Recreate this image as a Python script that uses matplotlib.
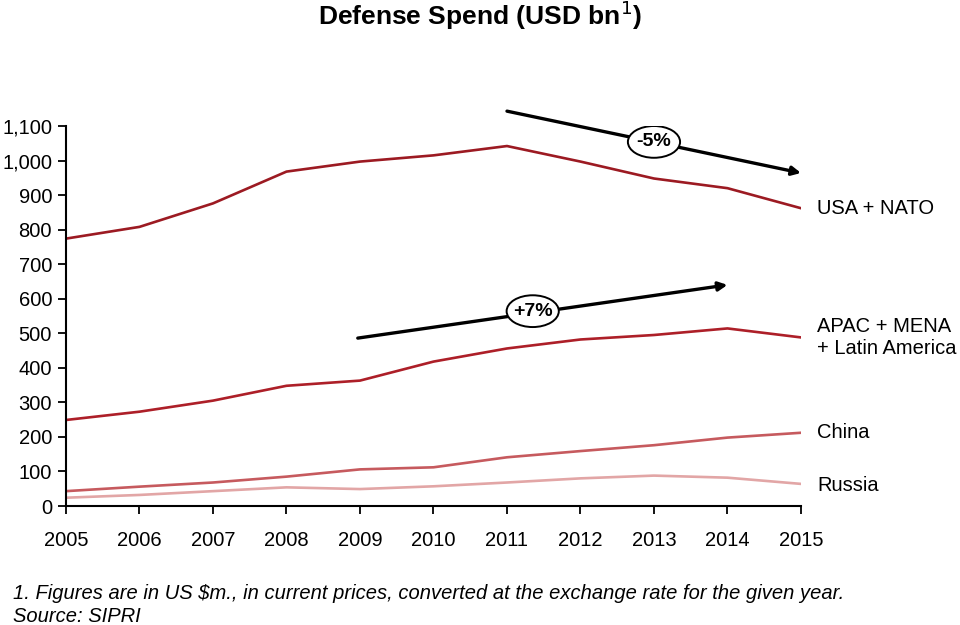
import matplotlib.pyplot as plt
from matplotlib.patches import Ellipse

plt.rcParams['font.family'] = ['Liberation Sans', 'DejaVu Sans']

years = list(range(2005, 2016))
usa_nato = [774, 808, 876, 968, 997, 1015, 1042, 997, 948, 920, 862]
apac_mena_latam = [249, 273, 305, 348, 363, 418, 456, 482, 495, 514, 488]
china = [43, 56, 68, 85, 106, 112, 141, 159, 176, 198, 212]
russia = [24, 32, 43, 54, 49, 57, 68, 80, 88, 82, 64]

series_names = ['USA + NATO', 'APAC + MENA\n+ Latin America', 'China', 'Russia']
series_values = [usa_nato, apac_mena_latam, china, russia]
series_colors = ['#9c1a22', '#ad1f28', '#c65a5e', '#e2a6a6']
label_y = [862, 488, 212, 60]

fig = plt.figure(figsize=(9.6, 6.25), dpi=100)
ax = fig.add_axes([0.06875, 0.1904, 0.7656, 0.608])

for vals, col in zip(series_values, series_colors):
    ax.plot(years, vals, color=col, lw=1.9, solid_joinstyle='round')

for name, y, col in zip(series_names, label_y, series_colors):
    ax.text(2015.22, y, name, fontsize=14.5, va='center', ha='left',
            linespacing=1.15, clip_on=False)

# trend arrows with growth labels
ax.annotate('', xy=(2015.0, 964), xytext=(2011.0, 1143),
            arrowprops=dict(arrowstyle='-|>', color='black', lw=2.4,
                            mutation_scale=13, shrinkA=0, shrinkB=0))
ax.annotate('', xy=(2014.0, 640), xytext=(2008.97, 486),
            arrowprops=dict(arrowstyle='-|>', color='black', lw=2.4,
                            mutation_scale=13, shrinkA=0, shrinkB=0))
for (x, y, txt) in [(2013.0, 1054, '-5%'), (2011.35, 564, '+7%')]:
    ax.add_patch(Ellipse((x, y), 0.71, 92, facecolor='white',
                         edgecolor='black', lw=1.4, zorder=3))
    ax.text(x, y, txt, fontsize=14, fontweight='bold', ha='center',
            va='center', zorder=4)

ax.set_xlim(2005, 2015)
ax.set_ylim(0, 1100)
ax.set_xticks(years)
ax.set_yticks(range(0, 1101, 100))
ax.set_yticklabels([f'{v:,}' for v in range(0, 1101, 100)])
ax.tick_params(axis='both', labelsize=14.5, direction='out', length=6,
               width=1.3, color='black')
ax.tick_params(axis='x', pad=12)
ax.tick_params(axis='y', pad=4)
for s in ['top', 'right']:
    ax.spines[s].set_visible(False)
for s in ['left', 'bottom']:
    ax.spines[s].set_linewidth(1.5)

fig.text(0.5, 0.976, 'Defense Spend (USD bn$^{1}$)', ha='center', va='center',
         fontsize=19, fontweight='bold')
fig.text(0.014, 0.051, '1. Figures are in US $m., in current prices, converted at '
         'the exchange rate for the given year.', fontsize=14.5, style='italic',
         va='center')
fig.text(0.014, 0.014, 'Source: SIPRI', fontsize=14.5, style='italic',
         va='center')

plt.savefig('out.png', dpi=100)
